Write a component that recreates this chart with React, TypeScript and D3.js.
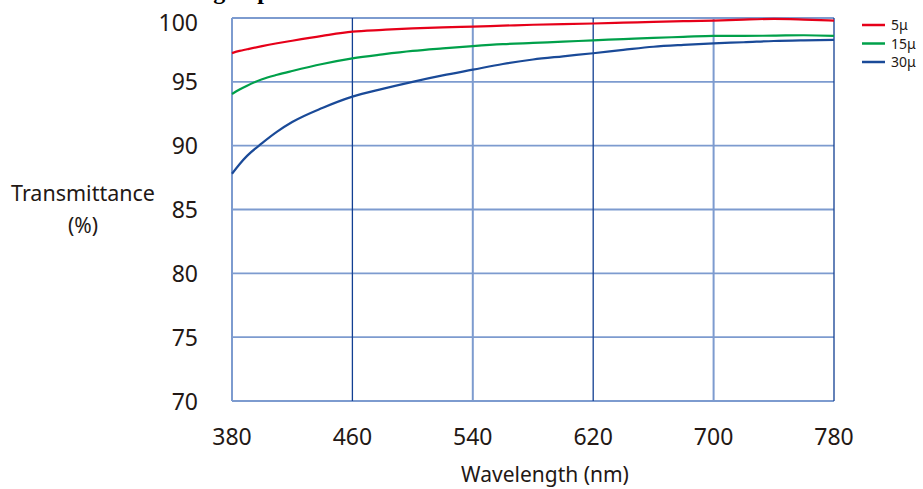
import React from "react";
import * as d3 from "d3";

const wavelengths = [380, 385, 390, 400, 410, 420, 440, 460, 480, 500, 520, 540, 560, 580, 600, 620, 640, 660, 680, 700, 720, 740, 760, 780];
const t5 = [97.25, 97.42, 97.55, 97.8, 98.02, 98.22, 98.6, 98.93, 99.07, 99.19, 99.27, 99.33, 99.4, 99.47, 99.52, 99.57, 99.63, 99.7, 99.75, 99.8, 99.88, 99.93, 99.88, 99.8];
const t15 = [94.05, 94.4, 94.7, 95.2, 95.55, 95.85, 96.4, 96.84, 97.15, 97.42, 97.62, 97.8, 97.95, 98.05, 98.15, 98.25, 98.35, 98.45, 98.52, 98.6, 98.6, 98.62, 98.65, 98.6];
const t30 = [87.8, 88.55, 89.2, 90.2, 91.1, 91.85, 92.95, 93.84, 94.45, 95.0, 95.5, 95.95, 96.4, 96.75, 97.0, 97.24, 97.5, 97.75, 97.9, 98.02, 98.1, 98.2, 98.25, 98.28];

const seriesNames = ["5μ", "15μ", "30μ"];
const seriesColors = ["#e60019", "#00a04a", "#1a4a98"];
const xTicks = [380, 460, 540, 620, 700, 780];
const yTicks = [70, 75, 80, 85, 90, 95, 100];
const darkVertical = [460, 620, 780];

const titleText = "Coating of plates";
const yLabel1 = "Transmittance";
const yLabel2 = "(%)";
const xLabel = "Wavelength (nm)";

export default function App() {
  const W = 923, H = 489;
  const x = d3.scaleLinear().domain([380, 780]).range([232, 834]);
  const y = d3.scaleLinear().domain([70, 100]).range([401, 18]);
  const light = "#7d9bcf";
  const dark = "#123f92";
  const font = "'Noto Sans', sans-serif";
  const textColor = "#231815";
  const series = [t5, t15, t30];
  const line = d3
    .line<number>()
    .x((_, i) => x(wavelengths[i]))
    .y((d) => y(d))
    .curve(d3.curveMonotoneX);

  return (
    <svg width={W} height={H} style={{ position: "absolute", left: 0, top: 0, background: "#fff" }}>
      <text x={144} y={-1.5} fontFamily="'Liberation Serif', 'Times New Roman', serif" fontWeight="bold" fontSize={24} fill="#000">
        {titleText}
      </text>
      {yTicks.map((t) => (
        <line key={"h" + t} x1={x(380)} x2={x(780)} y1={y(t)} y2={y(t)} stroke={light} strokeWidth={1.8} />
      ))}
      {xTicks.map((t) => {
        const isDark = darkVertical.includes(t);
        return (
          <line
            key={"v" + t}
            x1={x(t)}
            x2={x(t)}
            y1={y(100)}
            y2={y(70)}
            stroke={isDark ? dark : light}
            strokeWidth={isDark ? 1.3 : 2}
          />
        );
      })}
      {series.map((s, i) => (
        <path key={"s" + i} d={line(s) || ""} fill="none" stroke={seriesColors[i]} strokeWidth={2.2} />
      ))}
      {yTicks.map((t) => (
        <text
          key={"yt" + t}
          x={198}
          y={y(t) + (t === 100 ? 13 : 8.5)}
          textAnchor="end"
          fontFamily={font}
          fontSize={23}
          fill={textColor}
        >
          {t}
        </text>
      ))}
      {xTicks.map((t) => (
        <text key={"xt" + t} x={x(t)} y={445} textAnchor="middle" fontFamily={font} fontSize={23} fill={textColor}>
          {t}
        </text>
      ))}
      <text x={83} y={201} textAnchor="middle" fontFamily={font} fontSize={21.5} fill={textColor}>
        {yLabel1}
      </text>
      <text x={83} y={233} textAnchor="middle" fontFamily={font} fontSize={21} fill={textColor}>
        {yLabel2}
      </text>
      <text x={545} y={482} textAnchor="middle" fontFamily={font} fontSize={21} fill={textColor}>
        {xLabel}
      </text>
      {seriesNames.map((n, i) => (
        <g key={"lg" + i} transform={`translate(862, ${25 + i * 18.5})`}>
          <line x1={0} x2={23} y1={0} y2={0} stroke={seriesColors[i]} strokeWidth={2.5} />
          <text x={29} y={5} fontFamily={font} fontSize={14} fill={textColor}>
            {n}
          </text>
        </g>
      ))}
    </svg>
  );
}
